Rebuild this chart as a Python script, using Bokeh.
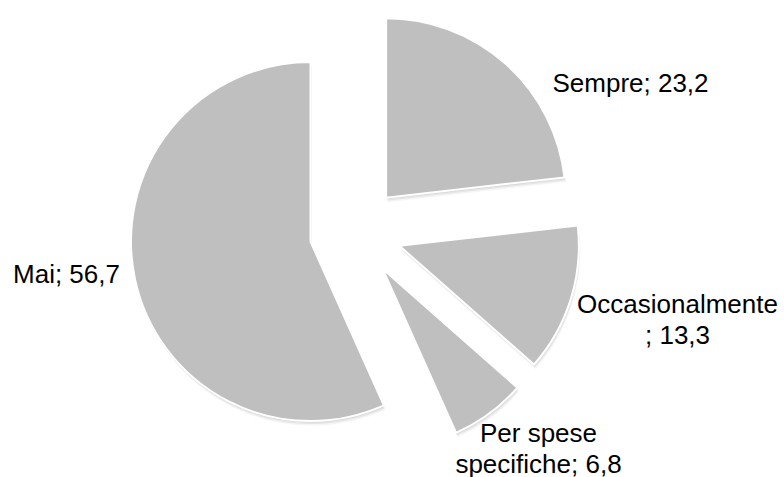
import math
from bokeh.plotting import figure
from bokeh.models import ColumnDataSource, Range1d
from bokeh.core.properties import value
from bokeh.embed import file_html
from bokeh.resources import INLINE

# Survey answers (percent)
categories = ["Sempre", "Occasionalmente", "Per spese specifiche", "Mai"]
shares = [23.2, 13.3, 6.8, 56.7]

W, H = 784, 477
CX, CY = 355, H - 231.5    # pie centre (y measured upwards)
R = 179.5                  # slice radius
EXPLODE = 46               # distance each slice is pulled out
FILL = "#bfbfbf"
LINE_STEP = 31             # label line spacing, px

# label anchors: horizontal centre and vertical middle of the first line
label_pos = [(630, H - 82), (677, H - 303), (538, H - 432), (66, H - 273)]


def fmt(v):
    return f"{v:.1f}".replace(".", ",")


labels = [f"{c}; {fmt(v)}" for c, v in zip(categories, shares)]
labels[1] = labels[1].replace("; ", "\n; ", 1)
labels[2] = labels[2].replace("spese ", "spese\n", 1)

# slices run clockwise from 12 o'clock
total = sum(shares)
xs, ys, starts, ends = [], [], [], []
acc = 0.0
for v in shares:
    a0 = acc / total * 360.0
    a1 = (acc + v) / total * 360.0
    acc += v
    mid = math.radians((a0 + a1) / 2)
    xs.append(CX + EXPLODE * math.sin(mid))
    ys.append(CY + EXPLODE * math.cos(mid))
    starts.append(math.radians(90 - a1))
    ends.append(math.radians(90 - a0))

src = ColumnDataSource(dict(x=xs, y=ys, start=starts, end=ends, cat=categories, val=shares))

p = figure(width=W, height=H, output_backend="svg", toolbar_location=None,
           x_range=Range1d(0, W), y_range=Range1d(0, H), min_border=0)
p.axis.visible = False
p.grid.visible = False
p.outline_line_color = None
p.background_fill_color = "white"
p.border_fill_color = "white"

# soft drop shadow under each slice
for ox, oy, a in [(0.5, -1.5, 0.07), (1.0, -3.0, 0.06), (1.5, -4.5, 0.04)]:
    shadow = ColumnDataSource(dict(x=[x + ox for x in xs], y=[y + oy for y in ys],
                                   start=starts, end=ends))
    p.wedge(x="x", y="y", radius=R, start_angle="start", end_angle="end",
            source=shadow, fill_color="black", fill_alpha=a, line_color=None)

p.wedge(x="x", y="y", radius=R, start_angle="start", end_angle="end", source=src,
        fill_color=FILL, line_color="white", line_width=2)

# one text row per label line
tx, ty, tt = [], [], []
for (lx, ly), lab in zip(label_pos, labels):
    for i, line in enumerate(lab.split("\n")):
        tx.append(lx)
        ty.append(ly - i * LINE_STEP)
        tt.append(line)

p.text(x=tx, y=ty, text=tt, text_font=value("Liberation Sans"),
       text_font_size="26px", text_color="black", text_align="center",
       text_baseline="middle")

open("out.html", "w").write(file_html(p, INLINE))
